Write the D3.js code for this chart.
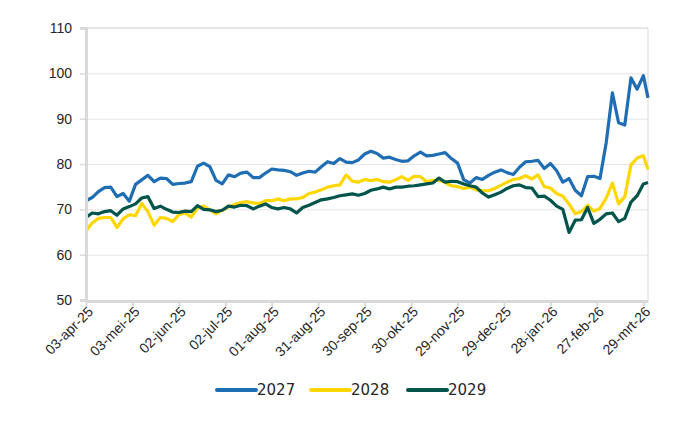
<!DOCTYPE html>
<html>
<head>
<meta charset="utf-8">
<script src="https://cdn.jsdelivr.net/npm/d3@7"></script>
<style>
  body { margin: 0; background: #fff; }
  svg { font-family: "DejaVu Sans", sans-serif; }
  .axis path, .axis line { stroke: #d9d9d9; }
  .axis text { fill: #262626; font-size: 14px; }
  .grid line { stroke: #e4e4e4; }
  .grid path { display: none; }
</style>
</head>
<body>
<div id="chart-div"></div>
<script>
// dates every 4 days, 03-apr-25 .. 01-apr-26
var dates = [
  "2025-04-03","2025-04-07","2025-04-11","2025-04-15","2025-04-19","2025-04-23","2025-04-27",
  "2025-05-01","2025-05-05","2025-05-09","2025-05-13","2025-05-17","2025-05-21","2025-05-25","2025-05-29",
  "2025-06-02","2025-06-06","2025-06-10","2025-06-14","2025-06-18","2025-06-22","2025-06-26","2025-06-30",
  "2025-07-04","2025-07-08","2025-07-12","2025-07-16","2025-07-20","2025-07-24","2025-07-28",
  "2025-08-01","2025-08-05","2025-08-09","2025-08-13","2025-08-17","2025-08-21","2025-08-25","2025-08-29",
  "2025-09-02","2025-09-06","2025-09-10","2025-09-14","2025-09-18","2025-09-22","2025-09-26","2025-09-30",
  "2025-10-04","2025-10-08","2025-10-12","2025-10-16","2025-10-20","2025-10-24","2025-10-28",
  "2025-11-01","2025-11-05","2025-11-09","2025-11-13","2025-11-17","2025-11-21","2025-11-25","2025-11-29",
  "2025-12-03","2025-12-07","2025-12-11","2025-12-15","2025-12-19","2025-12-23","2025-12-27","2025-12-31",
  "2026-01-04","2026-01-08","2026-01-12","2026-01-16","2026-01-20","2026-01-24","2026-01-28",
  "2026-02-01","2026-02-05","2026-02-09","2026-02-13","2026-02-17","2026-02-21","2026-02-25",
  "2026-03-01","2026-03-05","2026-03-09","2026-03-13","2026-03-17","2026-03-21","2026-03-25","2026-03-29",
  "2026-04-01"
];

var values2027 = [
  71.9,72.6,73.9,74.8,74.9,72.8,73.5,71.8,75.5,76.5,77.5,76.1,76.9,76.8,75.5,
  75.7,75.8,76.1,79.5,80.2,79.4,76.4,75.6,77.6,77.2,78.0,78.2,77.0,77.0,78.0,
  78.9,78.7,78.6,78.3,77.5,78.0,78.4,78.2,79.4,80.5,80.1,81.2,80.4,80.3,80.9,82.2,
  82.8,82.3,81.3,81.5,81.0,80.6,80.7,81.8,82.6,81.8,81.9,82.2,82.5,81.2,80.2,
  76.5,75.8,77.0,76.6,77.5,78.2,78.7,78.1,77.7,79.3,80.5,80.6,80.8,79.0,80.1,
  78.5,76.0,76.8,74.2,73.0,77.2,77.3,76.8,84.7,95.7,89.1,88.6,99.0,96.5,99.5,94.6
];

var values2028 = [
  65.3,67.0,68.0,68.2,68.2,66.0,67.9,68.8,68.6,71.3,69.5,66.5,68.2,68.0,67.3,
  68.8,69.2,68.3,70.3,70.7,69.9,69.0,69.8,70.5,71.1,71.5,71.7,71.4,71.3,71.9,
  71.9,72.3,71.9,72.3,72.3,72.6,73.5,73.8,74.3,74.9,75.2,75.4,77.6,76.2,76.0,76.6,
  76.3,76.6,76.1,76.0,76.5,77.2,76.4,77.3,77.2,76.1,76.4,76.4,75.9,75.2,75.0,
  74.6,74.9,74.3,74.1,74.1,74.6,75.3,76.0,76.6,76.8,77.4,76.7,77.6,75.0,74.7,
  73.5,72.9,71.2,69.0,69.5,70.9,69.6,70.2,72.5,75.8,71.2,72.8,79.8,81.3,81.8,78.8
];

var values2029 = [
  68.2,69.2,69.0,69.5,69.7,68.7,70.1,70.6,71.2,72.5,72.8,70.2,70.7,70.0,69.4,
  69.3,69.6,69.5,70.8,70.0,69.9,69.5,69.8,70.7,70.5,70.9,70.8,70.1,70.7,71.2,
  70.4,70.1,70.4,70.1,69.2,70.4,70.9,71.5,72.1,72.3,72.6,73.0,73.2,73.4,73.1,73.5,
  74.2,74.5,74.9,74.5,74.9,74.9,75.1,75.2,75.4,75.6,75.8,76.9,76.0,76.2,76.1,
  75.6,75.2,74.9,73.6,72.7,73.2,73.8,74.6,75.2,75.4,74.8,74.7,72.8,72.9,72.0,
  70.7,70.0,64.9,67.6,67.7,70.4,66.9,67.8,69.0,69.2,67.3,68.0,71.6,73.0,75.6,75.9
];

var seriesNames = ["2027", "2028", "2029"];
var seriesColors = ["#1f6db3", "#ffd600", "#00544c"];

var tickDates = [
  "2025-04-03","2025-05-03","2025-06-02","2025-07-02","2025-08-01","2025-08-31","2025-09-30",
  "2025-10-30","2025-11-29","2025-12-29","2026-01-28","2026-02-27","2026-03-29"
];
var tickLabels = [
  "03-apr-25","03-mei-25","02-jun-25","02-jul-25","01-aug-25","31-aug-25","30-sep-25",
  "30-okt-25","29-nov-25","29-dec-25","28-jan-26","27-feb-26","29-mrt-26"
];
var yTicks = [50, 60, 70, 80, 90, 100, 110];

var fn = {};
var vars = {};

vars.margin = { top: 28, right: 52, bottom: 130, left: 86 };
vars.chart = {
  width: 700 - vars.margin.left - vars.margin.right,
  height: 430 - vars.margin.top - vars.margin.bottom
};

fn.parse = d3.utcParse("%Y-%m-%d");

fn.set_up_scale = function() {
  vars.chart.x_scale = d3.scaleUtc()
    .domain([fn.parse(dates[0]), fn.parse(dates[dates.length - 1])])
    .range([0, vars.chart.width]);

  vars.chart.y_scale = d3.scaleLinear()
    .domain([50, 110])
    .range([vars.chart.height, 0]);
};

fn.draw_chart = function() {
  var svg = vars.svg;
  var w = vars.chart.width, h = vars.chart.height;

  // horizontal gridlines
  svg.append("g")
    .attr("class", "grid")
    .call(d3.axisLeft(vars.chart.y_scale).tickValues(yTicks).tickSize(-w).tickFormat(""));

  // plot area border, top and right
  svg.append("line")
    .attr("x1", 0).attr("x2", w).attr("y1", 0).attr("y2", 0)
    .attr("stroke", "#d9d9d9");
  svg.append("line")
    .attr("x1", w).attr("x2", w).attr("y1", 0).attr("y2", h)
    .attr("stroke", "#d9d9d9");

  // series lines
  var line_fn = d3.line()
    .x(function(d) { return vars.chart.x_scale(d.date); })
    .y(function(d) { return vars.chart.y_scale(d.value); });

  var all = [values2027, values2028, values2029];
  all.forEach(function(vals, i) {
    var pts = vals.map(function(v, j) {
      return { date: fn.parse(dates[j]), value: v };
    });
    svg.append("path")
      .datum(pts)
      .attr("fill", "none")
      .attr("stroke", seriesColors[i])
      .attr("stroke-width", 3.2)
      .attr("stroke-linejoin", "round")
      .attr("d", line_fn);
  });

  // y axis
  var y_axis = svg.append("g")
    .attr("class", "axis")
    .call(d3.axisLeft(vars.chart.y_scale).tickValues(yTicks).tickSize(6).tickPadding(8));
  y_axis.select(".domain").attr("stroke-width", 3);
  y_axis.selectAll(".tick line").attr("stroke-width", 1.5);
  y_axis.selectAll(".tick text").attr("font-size", 14.5);

  // x axis
  var x_axis = svg.append("g")
    .attr("class", "axis")
    .attr("transform", "translate(0," + (h + 1) + ")")
    .call(d3.axisBottom(vars.chart.x_scale)
      .tickValues(tickDates.map(fn.parse))
      .tickFormat(function(d, i) { return tickLabels[i]; })
      .tickSize(5)
      .tickSizeOuter(0));
  x_axis.select(".domain").attr("stroke-width", 3);
  x_axis.selectAll(".tick line").attr("stroke-width", 2);
  x_axis.selectAll(".tick text")
    .attr("text-anchor", "end")
    .attr("x", 0).attr("y", 0).attr("dy", "0.35em")
    .attr("transform", "translate(4,8) rotate(-45)");

  // legend
  var legend = vars.root.append("g").attr("class", "legend");
  var legendX = [217, 311, 408];
  seriesNames.forEach(function(name, i) {
    legend.append("line")
      .attr("x1", legendX[i]).attr("x2", legendX[i] + 39)
      .attr("y1", 390).attr("y2", 390)
      .attr("stroke", seriesColors[i])
      .attr("stroke-width", 4)
      .attr("stroke-linecap", "round");
    legend.append("text")
      .attr("x", legendX[i] + 40)
      .attr("y", 390)
      .attr("dy", "0.35em")
      .attr("font-size", 15)
      .attr("fill", "#262626")
      .text(name);
  });
};

fn.main = function() {
  vars.root = d3.select("#chart-div")
    .append("svg")
    .attr("width", 700)
    .attr("height", 430);

  vars.svg = vars.root.append("g")
    .attr("transform", "translate(" + vars.margin.left + "," + vars.margin.top + ")");

  fn.set_up_scale();
  fn.draw_chart();
};

fn.main();
</script>
</body>
</html>
